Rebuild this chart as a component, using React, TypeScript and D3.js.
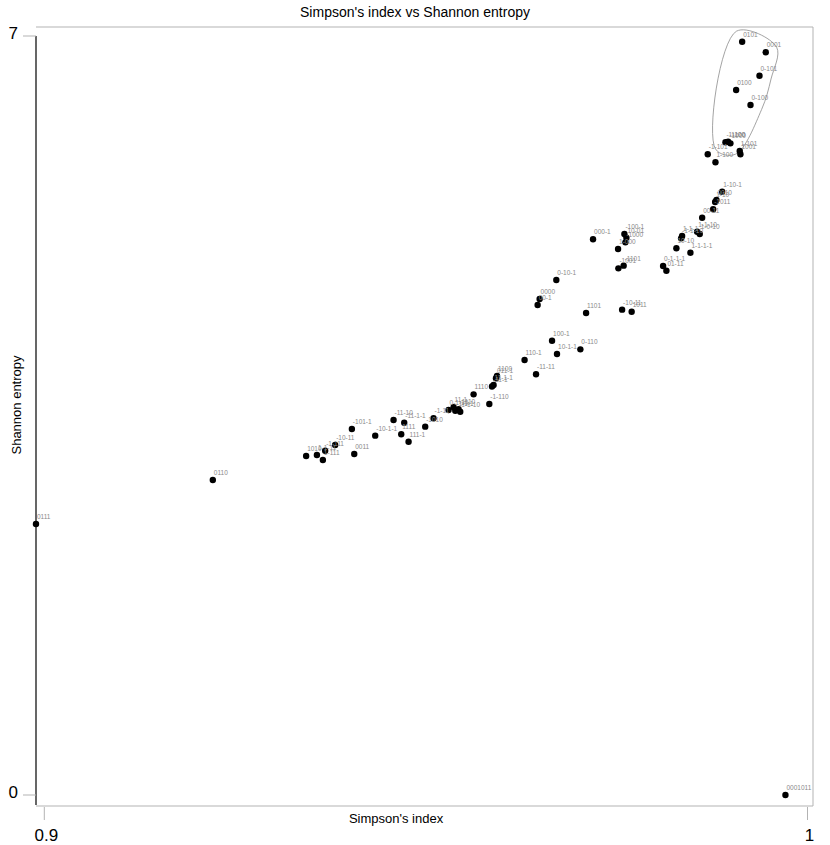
import React, { useEffect } from "react";
import * as d3 from "d3";

// pattern labels, Simpson's index (x) and Shannon entropy (y)
const labels = [
  "0101", "0001", "0-101", "0100", "0-100", "-1-100", "-1100", "1000",
  "1-101", "1001", "-1-101", "1-100", "1-10-1", "0010", "1-10", "-1011",
  "00-11", "1-1-10", "1-0-10", "1-1-1", "-1-1-10", "10-10", "1-1-1-1", "0-1-1-1",
  "01-11", "000-1", "-100-1", "10-01", "-1000", "1-000", "-1101", "-1001",
  "0-10-1", "0000", "00-1", "1101", "-10-11", "1011", "100-1", "10-1-1",
  "0-110", "110-1", "-11-11", "1100", "011-1", "11-1-1", "-11-1", "1110",
  "-1-110", "0-1-10", "11-1", "-1-1-1", "-1110", "1-1-10", "-1-11", "-1010",
  "-11-10", "-11-1-1", "1111", "111-1", "-10-1-1", "-101-1", "0011", "-10-11",
  "-1-111", "1-111", "1-1-11", "1010", "0110", "0111", "0001011",
];

const simpson = [
  0.99144, 0.99453, 0.99371, 0.99065, 0.99253, 0.98925, 0.9896, 0.9899,
  0.99112, 0.99121, 0.98693, 0.98794, 0.98882, 0.98807, 0.9879, 0.98764,
  0.9862, 0.98554, 0.98588, 0.98357, 0.98344, 0.98282, 0.98466, 0.98108,
  0.98151, 0.9719, 0.97601, 0.97627, 0.97614, 0.97518, 0.97591, 0.97522,
  0.96709, 0.9649, 0.96464, 0.97099, 0.97571, 0.97696, 0.96653, 0.96718,
  0.97024, 0.96293, 0.96443, 0.95932, 0.95918, 0.95887, 0.95866, 0.95625,
  0.95831, 0.95297, 0.95363, 0.95385, 0.95428, 0.9545, 0.951, 0.94991,
  0.94576, 0.94716, 0.94677, 0.94773, 0.94336, 0.9403, 0.94061, 0.93811,
  0.9368, 0.9365, 0.93572, 0.93431, 0.92208, 0.89891, 0.99711,
];

const shannon = [
  6.947, 6.85, 6.634, 6.502, 6.364, 6.02, 6.025, 6.01,
  5.939, 5.909, 5.909, 5.835, 5.564, 5.487, 5.469, 5.402,
  5.324, 5.195, 5.174, 5.155, 5.134, 5.042, 5.001, 4.879,
  4.835, 5.125, 5.174, 5.14, 5.097, 5.035, 4.882, 4.857,
  4.75, 4.574, 4.519, 4.445, 4.476, 4.457, 4.19, 4.067,
  4.11, 4.012, 3.88, 3.864, 3.843, 3.781, 3.767, 3.695,
  3.606, 3.551, 3.576, 3.544, 3.557, 3.535, 3.474, 3.397,
  3.458, 3.434, 3.327, 3.258, 3.314, 3.375, 3.145, 3.228,
  3.175, 3.09, 3.136, 3.126, 2.905, 2.499, 0,
];

// indices of the points enclosed by the outline
const hullGroup = [0, 1, 2, 3, 4, 5, 6, 7];

const xTicks = [0.9, 1];
const yTicks = [0, 7];

const W = 830;
const H = 845;
const font = "'Liberation Sans', Arial, sans-serif";

const App = () => {
  useEffect(() => {
    document.body.style.margin = "0";
  }, []);

  const x = d3.scaleLinear().domain([0.9, 1]).range([44.3, 807.5]);
  const y = d3.scaleLinear().domain([0, 7]).range([795, 36]);

  const frame = { left: 36, right: 813, top: 27, bottom: 806 };

  // smooth outline: hull vertices pushed out along their bisector normals
  const pad = 12;
  const pts: [number, number][] = hullGroup.map((i) => [x(simpson[i]), y(shannon[i])]);
  const hull = d3.polygonHull(pts) || [];
  const [cx, cy] = d3.polygonCentroid(hull);
  const outline = hull.map((v, k) => {
    const p = hull[(k - 1 + hull.length) % hull.length];
    const n = hull[(k + 1) % hull.length];
    const norm = (a: [number, number], b: [number, number]) => {
      const dx = b[0] - a[0];
      const dy = b[1] - a[1];
      const l = Math.hypot(dx, dy) || 1;
      let nx = dy / l;
      let ny = -dx / l;
      const mx = (a[0] + b[0]) / 2 - cx;
      const my = (a[1] + b[1]) / 2 - cy;
      if (nx * mx + ny * my < 0) { nx = -nx; ny = -ny; }
      return [nx, ny];
    };
    const n1 = norm(p, v);
    const n2 = norm(v, n);
    let bx = n1[0] + n2[0];
    let by = n1[1] + n2[1];
    const bl = Math.hypot(bx, by) || 1;
    bx /= bl;
    by /= bl;
    return [v[0] + bx * pad, v[1] + by * pad] as [number, number];
  });
  const hullPath = d3.line().curve(d3.curveCatmullRomClosed.alpha(0.5))(outline) || "";

  return (
    <svg width={W} height={H} style={{ display: "block", background: "#fff" }} fontFamily={font}>
      <text x={415} y={17} textAnchor="middle" fontSize={14} fill="#000">
        Simpson's index vs Shannon entropy
      </text>

      {/* frame */}
      <path
        d={`M${frame.left},${frame.top}H${frame.right}V${frame.bottom}H${frame.left}`}
        fill="none"
        stroke="#b3b3b3"
        strokeWidth={1}
      />
      <line x1={frame.left} x2={frame.left} y1={y(7)} y2={frame.bottom - 1} stroke="#000" strokeWidth={1.2} />

      {/* y axis */}
      {yTicks.map((t) => (
        <g key={t}>
          <line x1={23} x2={frame.left} y1={y(t)} y2={y(t)} stroke="#b3b3b3" />
          <text x={18} y={y(t)} dy="0.2em" textAnchor="end" fontSize={17} fill="#000">
            {t}
          </text>
        </g>
      ))}
      <text
        transform={`translate(21,405) rotate(-90)`}
        textAnchor="middle"
        fontSize={13}
        fill="#000"
      >
        Shannon entropy
      </text>

      {/* x axis */}
      {xTicks.map((t) => (
        <g key={t}>
          <line x1={x(t)} x2={x(t)} y1={frame.bottom + 1} y2={820} stroke="#b3b3b3" />
          <text x={x(t) + 2} y={841} textAnchor="middle" fontSize={17} fill="#000">
            {t}
          </text>
        </g>
      ))}
      <text x={396} y={823} textAnchor="middle" fontSize={13} fill="#000">
        Simpson's index
      </text>

      <path d={hullPath} fill="none" stroke="#8c8c8c" strokeWidth={0.8} />

      {/* points */}
      {labels.map((lab, i) => (
        <circle key={"p" + i} cx={x(simpson[i])} cy={y(shannon[i])} r={3.2} fill="#000" />
      ))}
      {labels.map((lab, i) => (
        <text
          key={"t" + i}
          x={x(simpson[i]) + 1}
          y={y(shannon[i]) - 5}
          fontSize={6.5}
          fill="#8a8a8a"
        >
          {lab}
        </text>
      ))}
    </svg>
  );
};

export default App;
